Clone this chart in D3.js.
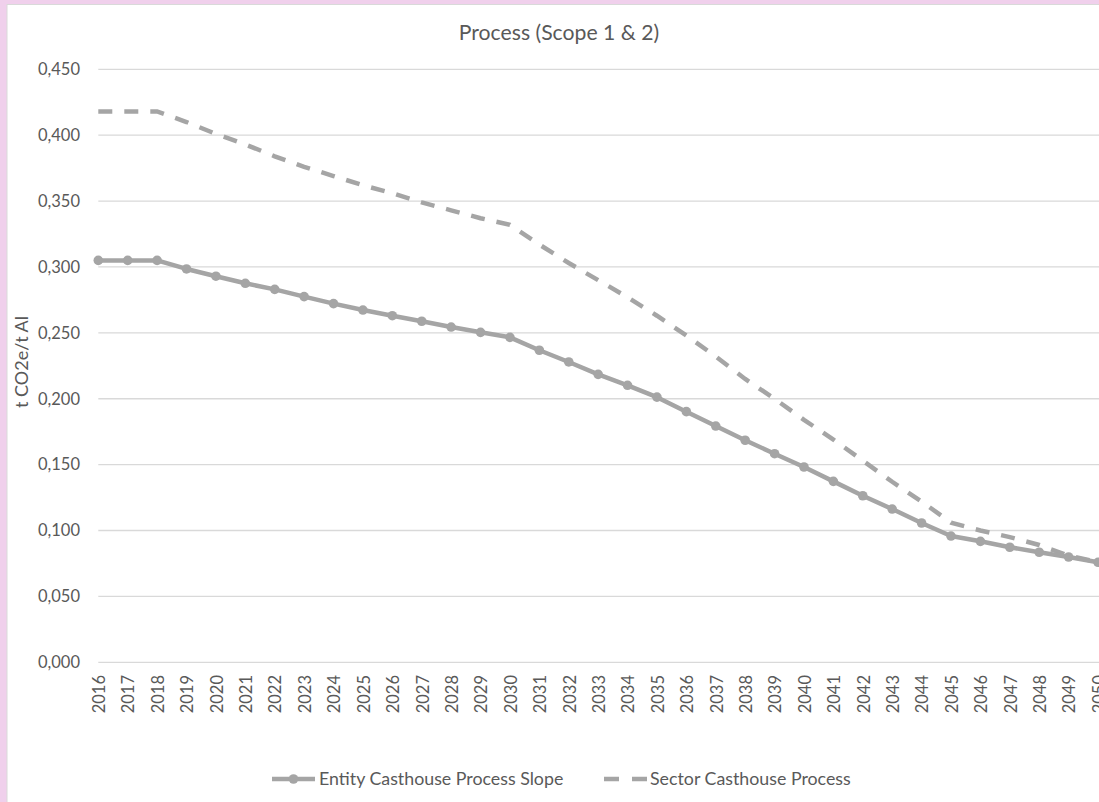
<!DOCTYPE html>
<html>
<head>
<meta charset="utf-8">
<script src="https://cdn.jsdelivr.net/npm/d3@7"></script>
<style>
  body { margin: 0; background: #fff; }
  text { font-family: Lato, "Open Sans", sans-serif; fill: #595959; }
</style>
</head>
<body>
<div id="chart"></div>
<script>
// Chart data
const years = d3.range(2016, 2051).map(String);
const entitySlope = [
    0.305, 0.305, 0.305, 0.2985, 0.293, 0.2876, 0.283, 0.2775, 0.2722, 0.2673,
    0.263, 0.2588, 0.2544, 0.2504, 0.2466, 0.2368, 0.2279, 0.2185, 0.2102, 0.2012,
    0.1902, 0.1793, 0.1685, 0.1583, 0.1482, 0.1373, 0.1264, 0.1163, 0.1057, 0.0958,
    0.0918, 0.0873, 0.0835, 0.0799, 0.0759
];
const sectorProcess = [
    0.418, 0.418, 0.418, 0.410, 0.401, 0.393, 0.384, 0.376, 0.369, 0.362,
    0.356, 0.349, 0.343, 0.337, 0.332, 0.317, 0.303, 0.290, 0.277, 0.263,
    0.248, 0.232, 0.215, 0.200, 0.184, 0.169, 0.153, 0.137, 0.122, 0.106,
    0.100, 0.095, 0.089, 0.081, 0.076
];
const yTicks = [0, 0.05, 0.1, 0.15, 0.2, 0.25, 0.3, 0.35, 0.4, 0.45];
const seriesNames = ["Entity Casthouse Process Slope", "Sector Casthouse Process"];

const W = 1099, H = 802;
const lineColor = "#a5a5a5";

const locale = d3.formatLocale({ decimal: ",", thousands: ".", grouping: [3], currency: ["", ""] });
const fmt = locale.format(".3f");

const svg = d3.select("#chart").append("svg")
    .attr("width", W)
    .attr("height", H);

// Pink frame round the chart area
svg.append("rect").attr("x", 0).attr("y", 0).attr("width", W).attr("height", H).attr("fill", "#f0d0ec");
svg.append("rect").attr("x", 7).attr("y", 4.5).attr("width", W).attr("height", H)
    .attr("fill", "#fff").attr("stroke", "#d9d9d9").attr("stroke-width", 1);

const x = d3.scalePoint()
    .domain(years)
    .range([98.3, 1098]);

const y = d3.scaleLinear()
    .domain([0, 0.45])
    .range([662.3, 69.3]);

// Gridlines
svg.append("g")
    .selectAll("line")
    .data(yTicks)
    .enter().append("line")
    .attr("x1", x(years[0]))
    .attr("x2", W)
    .attr("y1", d => y(d))
    .attr("y2", d => y(d))
    .attr("stroke", "#d9d9d9")
    .attr("stroke-width", 1.3);

// Y axis labels
svg.append("g")
    .selectAll("text")
    .data(yTicks)
    .enter().append("text")
    .attr("x", 80)
    .attr("y", d => y(d))
    .attr("dy", "0.35em")
    .attr("text-anchor", "end")
    .attr("font-size", "16.5px")
    .text(d => fmt(d));

// X axis labels, rotated (the last one runs off the edge, as in the original)
svg.append("g")
    .selectAll("text")
    .data(years)
    .enter().append("text")
    .attr("transform", d => `translate(${x(d) + 1},675) rotate(-90)`)
    .attr("dy", "0.35em")
    .attr("text-anchor", "end")
    .attr("font-size", "16.5px")
    .text(d => d);

// Title
svg.append("text")
    .attr("x", 559)
    .attr("y", 33)
    .attr("dy", "0.35em")
    .attr("text-anchor", "middle")
    .attr("font-size", "21.2px")
    .text("Process (Scope 1 & 2)");

// Y axis title
svg.append("text")
    .attr("transform", "translate(22,362) rotate(-90)")
    .attr("dy", "0.35em")
    .attr("text-anchor", "middle")
    .attr("font-size", "18px")
    .text("t CO2e/t Al");

const line = d3.line()
    .x((d, i) => x(years[i]))
    .y(d => y(d));

// Sector (dashed)
svg.append("path")
    .datum(sectorProcess)
    .attr("fill", "none")
    .attr("stroke", lineColor)
    .attr("stroke-width", 4.5)
    .attr("stroke-dasharray", "14,12")
    .attr("d", line);

// Entity (solid with markers)
svg.append("path")
    .datum(entitySlope)
    .attr("fill", "none")
    .attr("stroke", lineColor)
    .attr("stroke-width", 4.5)
    .attr("stroke-linejoin", "round")
    .attr("d", line);

svg.append("g")
    .selectAll("circle")
    .data(entitySlope)
    .enter().append("circle")
    .attr("cx", (d, i) => x(years[i]))
    .attr("cy", d => y(d))
    .attr("r", 4.8)
    .attr("fill", lineColor);

// Legend
const legY = 779;
const leg = svg.append("g");
leg.append("line")
    .attr("x1", 272).attr("x2", 315).attr("y1", legY).attr("y2", legY)
    .attr("stroke", lineColor).attr("stroke-width", 4.5);
leg.append("circle")
    .attr("cx", 293.5).attr("cy", legY).attr("r", 4.8).attr("fill", lineColor);
leg.append("text")
    .attr("x", 319).attr("y", legY).attr("dy", "0.35em")
    .attr("font-size", "17.8px")
    .text(seriesNames[0]);

leg.append("line")
    .attr("x1", 604).attr("x2", 647).attr("y1", legY).attr("y2", legY)
    .attr("stroke", lineColor).attr("stroke-width", 4.5)
    .attr("stroke-dasharray", "15,13");
leg.append("text")
    .attr("x", 650).attr("y", legY).attr("dy", "0.35em")
    .attr("font-size", "17.8px")
    .text(seriesNames[1]);
</script>
</body>
</html>
